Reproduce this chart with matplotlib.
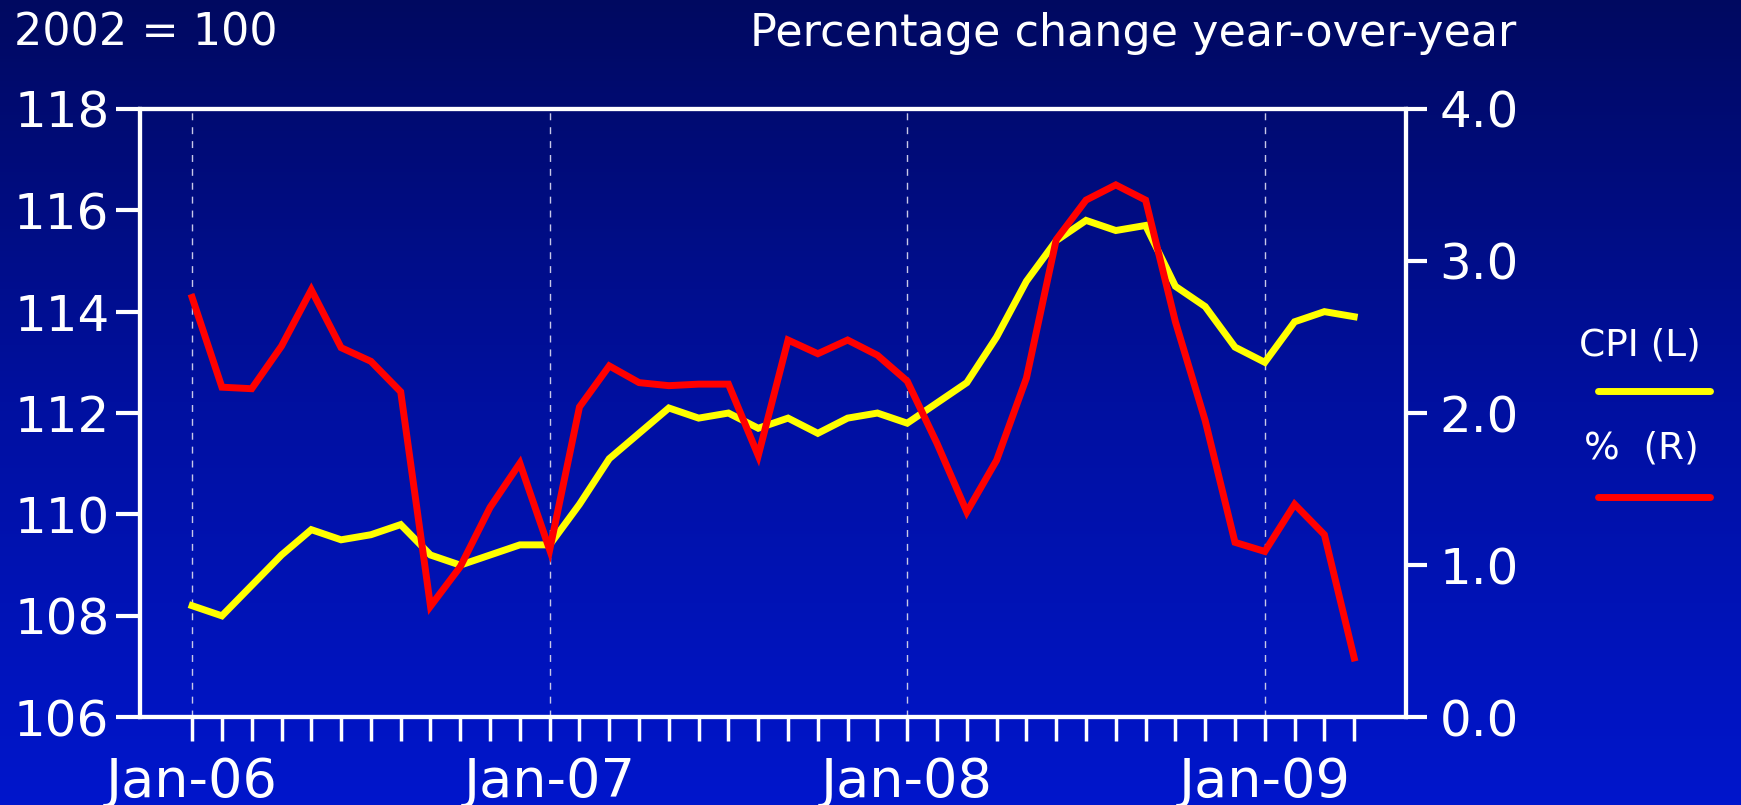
import numpy as np
import matplotlib
matplotlib.use("Agg")
import matplotlib.pyplot as plt
from matplotlib.colors import LinearSegmentedColormap
from matplotlib.lines import Line2D

months = ["Jan-06", "Feb-06", "Mar-06", "Apr-06", "May-06", "Jun-06", "Jul-06", "Aug-06",
          "Sep-06", "Oct-06", "Nov-06", "Dec-06", "Jan-07", "Feb-07", "Mar-07", "Apr-07",
          "May-07", "Jun-07", "Jul-07", "Aug-07", "Sep-07", "Oct-07", "Nov-07", "Dec-07",
          "Jan-08", "Feb-08", "Mar-08", "Apr-08", "May-08", "Jun-08", "Jul-08", "Aug-08",
          "Sep-08", "Oct-08", "Nov-08", "Dec-08", "Jan-09", "Feb-09", "Mar-09", "Apr-09"]

cpi = [108.2, 108.0, 108.6, 109.2, 109.7, 109.5, 109.6, 109.8, 109.2, 109.0,
       109.2, 109.4, 109.4, 110.2, 111.1, 111.6, 112.1, 111.9, 112.0, 111.7,
       111.9, 111.6, 111.9, 112.0, 111.8, 112.2, 112.6, 113.5, 114.6, 115.4,
       115.8, 115.6, 115.7, 114.5, 114.1, 113.3, 113.0, 113.8, 114.0, 113.9]

pct = [2.76, 2.17, 2.16, 2.44, 2.81, 2.43, 2.34, 2.14, 0.73, 0.99,
       1.38, 1.67, 1.10, 2.04, 2.31, 2.20, 2.18, 2.19, 2.19, 1.72,
       2.48, 2.39, 2.48, 2.38, 2.21, 1.80, 1.35, 1.69, 2.23, 3.14,
       3.40, 3.50, 3.40, 2.60, 1.95, 1.15, 1.09, 1.40, 1.20, 0.39]

x = np.arange(len(months))
year_ticks = [i for i, m in enumerate(months) if m.startswith("Jan")]
year_labels = [months[i] for i in year_ticks]

plt.rcParams["font.family"] = ["DejaVu Sans"]

fig = plt.figure(figsize=(17.41, 8.05), dpi=100)

# gradient background
bg = fig.add_axes([0, 0, 1, 1], zorder=-10)
bg.axis("off")
cmap = LinearSegmentedColormap.from_list("bg", ["#000960", "#0010A0", "#0016CC"])
bg.imshow(np.linspace(0, 1, 256).reshape(-1, 1), aspect="auto", cmap=cmap,
          extent=[0, 1, 0, 1])

ax = fig.add_axes([0.0804, 0.1090, 0.7272, 0.7558])
ax.patch.set_alpha(0)
ax2 = ax.twinx()
ax2.patch.set_alpha(0)

ax.plot(x, cpi, color="#FFFF00", lw=5, solid_joinstyle="miter", zorder=3)
ax2.plot(x, pct, color="#FF0000", lw=5, solid_joinstyle="miter", zorder=4)

ax.set_xlim(-1.75, 40.74)
ax.set_ylim(106, 118)
ax.set_yticks(np.arange(106, 119, 2))
ax2.set_ylim(0, 4)
ax2.set_yticks(np.arange(0, 4.01, 1))
ax2.set_yticklabels([f"{v:.1f}" for v in np.arange(0, 4.01, 1)])

ax.set_xticks(year_ticks)
ax.set_xticklabels(year_labels)
ax.set_xticks(x, minor=True)

for i in year_ticks:
    ax.axvline(i, color="#C8C8E8", lw=1.0, ls=(0, (5, 5)), zorder=1)

for a in (ax, ax2):
    for s in a.spines.values():
        s.set_color("white")
        s.set_linewidth(3)

ax.tick_params(axis="y", colors="white", labelsize=36, length=17, width=3, pad=5)
ax2.tick_params(axis="y", colors="white", labelsize=36, length=15, width=3, pad=9)
ax.tick_params(axis="x", which="both", colors="white", labelsize=39, length=17,
               width=2.5, pad=11)

fig.text(0.008, 0.959, "2002 = 100", color="white", fontsize=32, ha="left", va="center")
fig.text(0.871, 0.959, "Percentage change year-over-year", color="white", fontsize=32,
         ha="right", va="center")

# legend
fig.text(0.942, 0.571, "CPI (L)", color="white", fontsize=27, ha="center", va="center")
fig.add_artist(Line2D([0.918, 0.982], [0.514, 0.514], color="#FFFF00", lw=5,
                      solid_capstyle="round"))
fig.text(0.943, 0.443, "%  (R)", color="white", fontsize=27, ha="center", va="center")
fig.add_artist(Line2D([0.918, 0.982], [0.383, 0.383], color="#FF0000", lw=5,
                      solid_capstyle="round"))

fig.savefig("out.png", dpi=100)
